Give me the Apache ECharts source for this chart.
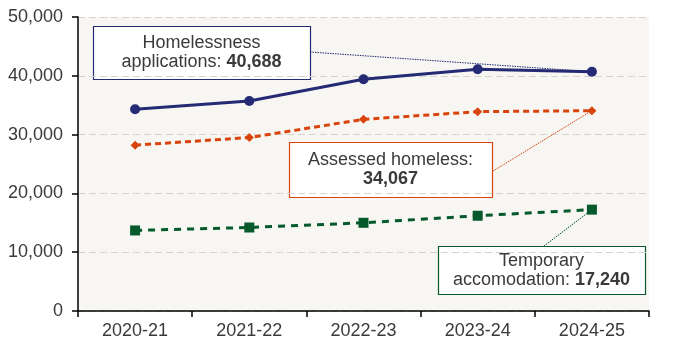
<!DOCTYPE html>
<html><head><meta charset="utf-8">
<script src="https://cdn.jsdelivr.net/npm/echarts@6/dist/echarts.min.js"></script>
<style>html,body{margin:0;padding:0;background:#fff}#c{width:682px;height:347px}</style>
</head><body><div id="c"></div>
<script>
var categories = ['2020-21','2021-22','2022-23','2023-24','2024-25'];
var applications = [34300, 35700, 39400, 41100, 40688];
var assessed = [28200, 29500, 32600, 33900, 34067];
var temporary = [13700, 14200, 15000, 16200, 17240];
var yTicks = [0, 10000, 20000, 30000, 40000, 50000];

var FONT = '"Liberation Sans", Arial, sans-serif';
var TXT = '#3a3a3a';
var NAVY = '#252A74', ORANGE = '#D9440E', GREEN = '#05592A';
function fmt(v){ return v.toString().replace(/\B(?=(\d{3})+(?!\d))/g, ','); }
var last = categories.length - 1;

function box(x, y, w, h, color, l1, l2a, l2b){
  return {
    type: 'group', z: 100,
    children: [
      {type:'rect', shape:{x:x + 0.5, y:y + 0.5, width:w, height:h}, style:{fill:'#fff', stroke:color, lineWidth:1.2}},
      {type:'text', x: x + w/2, y: y + h/2 - 9, style:{text:l1, font:'18px ' + FONT, fill:TXT, align:'center', verticalAlign:'middle'}},
      {type:'text', x: x + w/2, y: y + h/2 + 10, style:{
        text: (l2a ? '{n|' + l2a + '}' : '') + '{b|' + l2b + '}',
        align:'center', verticalAlign:'middle',
        rich:{n:{font:'18px ' + FONT, fill:TXT}, b:{font:'bold 18px ' + FONT, fill:TXT}}
      }}
    ]
  };
}

var chart = echarts.init(document.getElementById('c'));
chart.setOption({
  animation: false,
  grid: {left: 78, right: 33, top: 17, bottom: 36, show: true, backgroundColor: '#F7F6F2', borderWidth: 0},
  xAxis: {
    type: 'category', data: categories, boundaryGap: true,
    axisLine: {lineStyle: {color: '#000', width: 1.5}},
    axisTick: {show: true, interval: 0, length: 6, lineStyle: {color: '#000', width: 1.5}},
    axisLabel: {fontSize: 18, fontFamily: FONT, color: TXT, margin: 11}
  },
  yAxis: {
    type: 'value', min: yTicks[0], max: yTicks[yTicks.length-1], interval: yTicks[1] - yTicks[0],
    axisLine: {show: true, lineStyle: {color: '#000', width: 1.5}},
    axisTick: {show: true, length: 6, lineStyle: {color: '#000', width: 1.5}},
    axisLabel: {fontSize: 18, fontFamily: FONT, color: TXT, margin: 15, formatter: function(v){ return fmt(v); }},
    splitLine: {show: true, lineStyle: {color: '#D6D4CF', type: [7,4], width: 1}}
  },
  series: [
    {
      name: 'Homelessness applications', type: 'line', data: applications,
      symbol: 'circle', symbolSize: 10, itemStyle: {color: NAVY},
      lineStyle: {color: NAVY, width: 3}, z: 5,
      markLine: {
        silent: true, symbol: ['none','none'], label: {show: false},
        lineStyle: {color: NAVY, type: [1.5,1], width: 1},
        data: [[{x: 310, y: 52}, {coord: [last, applications[last]]}]]
      }
    },
    {
      name: 'Assessed homeless', type: 'line', data: assessed,
      symbol: 'diamond', symbolSize: 9, itemStyle: {color: ORANGE},
      lineStyle: {color: ORANGE, width: 3, type: [6,4]}, z: 4,
      markLine: {
        silent: true, symbol: ['none','none'], label: {show: false},
        lineStyle: {color: ORANGE, type: [1.5,1], width: 1},
        data: [[{x: 493, y: 171}, {coord: [last, assessed[last]]}]]
      }
    },
    {
      name: 'Temporary accomodation', type: 'line', data: temporary,
      symbol: 'rect', symbolSize: 10, itemStyle: {color: GREEN},
      lineStyle: {color: GREEN, width: 3, type: [7,6]}, z: 3,
      markLine: {
        silent: true, symbol: ['none','none'], label: {show: false},
        lineStyle: {color: GREEN, type: [1.5,1], width: 1},
        data: [[{x: 544, y: 246}, {coord: [last, temporary[last]]}]]
      }
    }
  ],
  graphic: [
    box(93, 26, 217, 53, NAVY, 'Homelessness', 'applications: ', fmt(applications[last])),
    box(289, 142, 203, 55, ORANGE, 'Assessed homeless:', '', fmt(assessed[last])),
    box(438, 246, 207, 48, GREEN, 'Temporary', 'accomodation: ', fmt(temporary[last]))
  ]
});
</script></body></html>
